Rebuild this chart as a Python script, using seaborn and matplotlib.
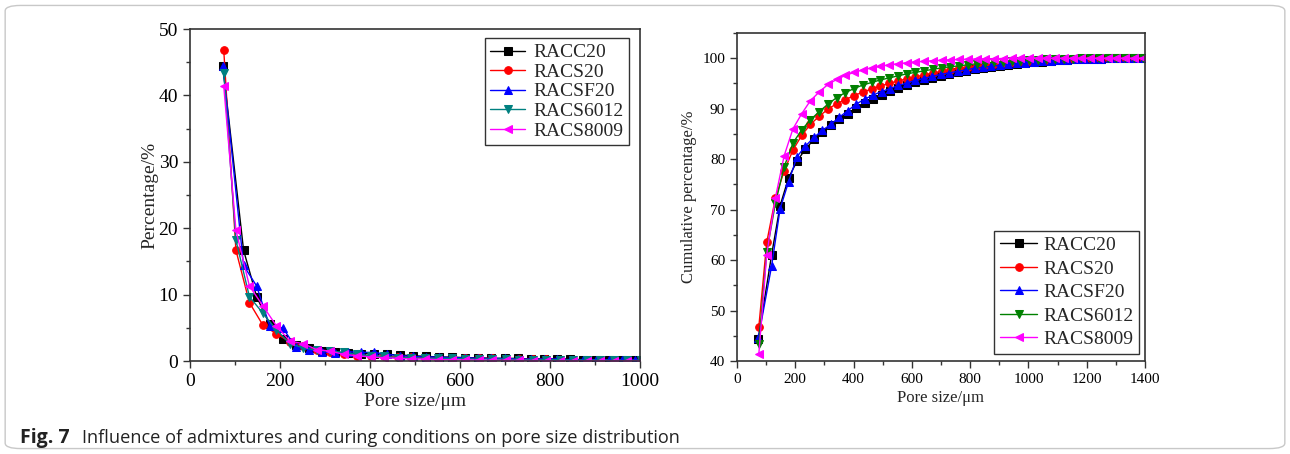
import numpy as np
import pandas as pd
import matplotlib
matplotlib.use("Agg")
import matplotlib.pyplot as plt
from matplotlib.patches import FancyBboxPatch
from matplotlib.ticker import MultipleLocator
import seaborn as sns


sns.set_style("ticks")
plt.rcParams["font.family"] = ["Liberation Serif", "DejaVu Serif"]
plt.rcParams["mathtext.fontset"] = "stix"


# --------------------------------------------------
# Data
# --------------------------------------------------

# pore size grids (two grids: RACC20 / RACSF20 and the others)
pore_a = [73, 119, 148, 177, 206, 235, 264, 293, 322, 351, 380, 409, 438, 467,
          496, 525, 554, 583, 612, 641, 670, 699, 728, 757, 786, 815, 844, 873,
          902, 931, 960, 989, 1018, 1047, 1076, 1105, 1134, 1163, 1192, 1221,
          1250, 1279, 1308, 1337, 1366, 1395]

pore_b = [75, 102, 132, 162, 192, 222, 252, 282, 312, 342, 372, 402, 432, 462,
          492, 522, 552, 582, 612, 642, 672, 702, 732, 762, 792, 822, 852, 882,
          912, 942, 972, 1002, 1032, 1062, 1092, 1122, 1152, 1182, 1212, 1242,
          1272, 1302, 1332, 1362, 1392]

# cumulative percentage (%)
cum_racc20 = [44.4, 61.1, 70.8, 76.3, 79.6, 82.0, 83.9, 85.4, 86.7, 87.9, 89.0,
              90.1, 91.1, 92.0, 92.8, 93.5, 94.1, 94.7, 95.2, 95.7, 96.1, 96.5,
              96.9, 97.2, 97.5, 97.8, 98.1, 98.3, 98.5, 98.7, 98.9, 99.05, 99.2,
              99.35, 99.5, 99.6, 99.7, 99.78, 99.85, 99.9, 99.94, 99.97, 99.99,
              100.0, 100.0, 100.0]

cum_racsf20 = [44.5, 58.9, 70.2, 75.5, 80.5, 82.6, 84.3, 85.7, 86.9, 88.3, 89.6,
               90.9, 91.9, 92.7, 93.4, 94.0, 94.6, 95.1, 95.6, 96.0, 96.4, 96.8,
               97.1, 97.4, 97.7, 98.0, 98.2, 98.4, 98.6, 98.8, 99.0, 99.15, 99.3,
               99.4, 99.5, 99.6, 99.7, 99.78, 99.85, 99.9, 99.94, 99.97, 99.99,
               100.0, 100.0, 100.0]

cum_racs20 = [46.8, 63.5, 72.3, 77.7, 81.8, 84.7, 86.9, 88.5, 89.9, 91.0, 91.8,
              92.6, 93.3, 93.9, 94.5, 95.0, 95.5, 95.9, 96.3, 96.7, 97.1, 97.4,
              97.7, 98.0, 98.3, 98.5, 98.7, 98.9, 99.1, 99.25, 99.4, 99.5, 99.6,
              99.7, 99.78, 99.85, 99.9, 99.93, 99.96, 99.98, 99.99, 100.0, 100.0,
              100.0, 100.0]

cum_racs6012 = [43.4, 61.6, 71.3, 78.5, 83.2, 85.8, 87.8, 89.4, 90.9, 92.2, 93.2,
                94.0, 94.7, 95.2, 95.7, 96.1, 96.5, 96.9, 97.2, 97.5, 97.8, 98.1,
                98.3, 98.5, 98.7, 98.9, 99.05, 99.2, 99.35, 99.45, 99.55, 99.65,
                99.72, 99.8, 99.85, 99.9, 99.93, 99.96, 99.98, 99.99, 100.0,
                100.0, 100.0, 100.0, 100.0]

cum_racs8009 = [41.4, 61.1, 72.4, 80.7, 86.0, 89.0, 91.6, 93.3, 94.8, 95.8, 96.6,
                97.2, 97.7, 98.1, 98.4, 98.7, 98.9, 99.1, 99.25, 99.4, 99.5, 99.6,
                99.68, 99.75, 99.8, 99.85, 99.88, 99.91, 99.94, 99.96, 99.98,
                99.99, 100.0, 100.0, 100.0, 100.0, 100.0, 100.0, 100.0, 100.0,
                100.0, 100.0, 100.0, 100.0, 100.0]

labels = ["RACC20", "RACS20", "RACSF20", "RACS6012", "RACS8009"]
pore_sizes = [pore_a, pore_b, pore_a, pore_b, pore_b]
cumulative = [cum_racc20, cum_racs20, cum_racsf20, cum_racs6012, cum_racs8009]

markers = ["s", "o", "^", "v", "<"]
colors_left = ["black", "#ff0000", "#0000ff", "#008080", "#ff00ff"]
colors_right = ["black", "#ff0000", "#0000ff", "#008000", "#ff00ff"]


# --------------------------------------------------
# Figure
# --------------------------------------------------

fig = plt.figure(figsize=(12.9, 4.54), dpi=100)

frame = FancyBboxPatch(
    (0.004, 0.012), 0.992, 0.976,
    boxstyle="round,pad=0,rounding_size=0.012",
    transform=fig.transFigure,
    facecolor="white",
    edgecolor="#c8c8c8",
    linewidth=1.0,
    zorder=-10
)
fig.patches.append(frame)

ax1 = fig.add_axes([0.1473, 0.2048, 0.3488, 0.7313])
ax2 = fig.add_axes([0.5713, 0.2048, 0.3163, 0.7225])


def draw_series(ax, colors, cumulative_mode):

    for lab, xs, cum, mk, col in zip(labels, pore_sizes, cumulative,
                                     markers, colors):

        cum = np.asarray(cum)

        if cumulative_mode:
            ys = cum
        else:
            ys = np.diff(cum, prepend=0.0)

        df = pd.DataFrame({"pore": xs, "value": ys})

        sns.lineplot(
            data=df,
            x="pore",
            y="value",
            ax=ax,
            color=col,
            marker=mk,
            markersize=5.5,
            markeredgecolor=col,
            linewidth=1.0,
            label=lab,
            sort=False,
            estimator=None
        )


def style_axis(ax, tick_size):

    for side in ["top", "right", "bottom", "left"]:
        ax.spines[side].set_visible(True)
        ax.spines[side].set_color("#333333")
        ax.spines[side].set_linewidth(1.2)

    ax.tick_params(axis="both", which="major", direction="out",
                   length=5, width=1, labelsize=tick_size, colors="#333333",
                   labelcolor="black")
    ax.tick_params(axis="both", which="minor", direction="out",
                   length=3, width=1, colors="#333333")


# left panel: percentage
draw_series(ax1, colors_left, cumulative_mode=False)

ax1.set_xlim(0, 1000)
ax1.set_ylim(0, 50)
ax1.xaxis.set_major_locator(MultipleLocator(200))
ax1.xaxis.set_minor_locator(MultipleLocator(100))
ax1.yaxis.set_major_locator(MultipleLocator(10))
ax1.yaxis.set_minor_locator(MultipleLocator(5))
style_axis(ax1, 14)
ax1.set_xlabel("Pore size/\u03bcm", fontsize=14, labelpad=2)
ax1.set_ylabel("Percentage/%", fontsize=14, labelpad=0)

leg1 = ax1.legend(
    loc="upper right",
    bbox_to_anchor=(0.985, 0.985),
    fontsize=14,
    frameon=True,
    fancybox=False,
    edgecolor="black",
    handlelength=1.8,
    handletextpad=0.4,
    labelspacing=0.1,
    borderpad=0.3,
    borderaxespad=0.2
)
leg1.get_frame().set_linewidth(1.0)

# right panel: cumulative percentage
draw_series(ax2, colors_right, cumulative_mode=True)

ax2.set_xlim(0, 1400)
ax2.set_ylim(40, 105)
ax2.xaxis.set_major_locator(MultipleLocator(200))
ax2.xaxis.set_minor_locator(MultipleLocator(100))
ax2.yaxis.set_major_locator(MultipleLocator(10))
ax2.yaxis.set_minor_locator(MultipleLocator(5))
style_axis(ax2, 11)
ax2.set_yticks([40, 50, 60, 70, 80, 90, 100])
ax2.set_xlabel("Pore size/\u03bcm", fontsize=12, labelpad=3)
ax2.set_ylabel("Cumulative percentage/%", fontsize=12, labelpad=4)

leg2 = ax2.legend(
    loc="lower right",
    bbox_to_anchor=(0.995, 0.01),
    fontsize=14,
    frameon=True,
    fancybox=False,
    edgecolor="black",
    handlelength=1.9,
    handletextpad=0.3,
    labelspacing=0.3,
    borderpad=0.3,
    borderaxespad=0.2
)
leg2.get_frame().set_linewidth(1.0)

# caption
fig.text(0.0155, 0.024, "Fig. 7", fontsize=14, fontweight="bold",
         family=["Open Sans", "DejaVu Sans"], color="#222222")
fig.text(0.0636, 0.024,
         "Influence of admixtures and curing conditions on pore size distribution",
         fontsize=13.1, family=["Open Sans", "DejaVu Sans"], color="#222222")

fig.savefig("out.png", dpi=100)
plt.close(fig)
